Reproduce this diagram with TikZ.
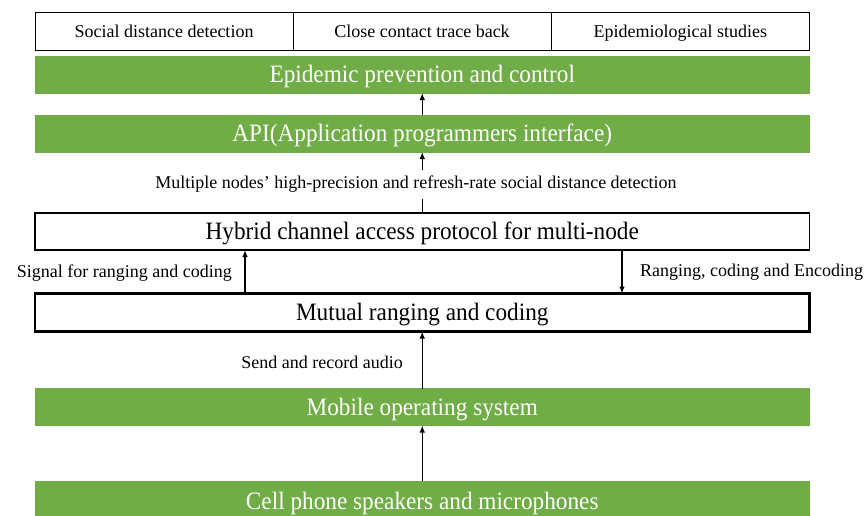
\documentclass[tikz,border=0pt]{standalone}
\usepackage{fontspec}
\setmainfont{Liberation Serif}
\newfontfamily\bigfont[FakeStretch=0.93]{Liberation Serif}
\usetikzlibrary{arrows.meta}
\definecolor{ogreen}{HTML}{70AD47}
\begin{document}
\begin{tikzpicture}[x=1pt,y=-1pt,
  bigtxt/.style={font=\bigfont\fontsize{25}{25}\selectfont, text height=16.5pt, text depth=0pt},
  smalltxt/.style={font=\fontsize{18}{18}\selectfont, text height=11.9pt, text depth=0pt},
  layer/.style={anchor=north west, minimum width=774.5pt, minimum height=37pt, inner sep=0pt, outer sep=0pt},
  greenbox/.style={layer, bigtxt, fill=ogreen, draw=ogreen!90!gray, line width=0.8pt, text=white},
  whitebox/.style={layer, bigtxt, draw=black, fill=white, line width=1.3pt},
  cellbox/.style={anchor=north west, smalltxt, draw=black, line width=1pt, minimum width=258pt, minimum height=38pt, inner sep=0pt, outer sep=0pt},
  lbl/.style={font=\fontsize{18}{18}\selectfont, inner sep=0pt},
  arr/.style={-{Latex[length=7pt,width=5.5pt]}, line width=1.3pt}
]
\useasboundingbox (0,0) rectangle (865,515);

% top row
\node[cellbox] (c1) at (35,12.5) {Social distance detection};
\node[cellbox] (c2) at (293,12.5) {Close contact trace back};
\node[cellbox, minimum width=258.5pt] (c3) at (551,12.5) {Epidemiological studies};

% layers
\node[greenbox] (epi) at (35,56) {Epidemic prevention and control};
\node[greenbox] (api) at (35,115) {API(Application programmers interface)};
\node[whitebox] (hyb) at (35,213) {Hybrid channel access protocol for multi-node};
\node[whitebox, line width=2.7pt, minimum height=38pt] (mut) at (35,293.5) {Mutual ranging and coding};
\node[greenbox] (mob) at (35,388.5) {Mobile operating system};
\node[greenbox, minimum height=40pt] (cell) at (35,481) {Cell phone speakers and microphones};

% connectors
\coordinate (xL) at (245,0);
\coordinate (xR) at (622,0);
\draw[arr] (api.north) -- (epi.south);
\draw[arr] (hyb.north) -- (api.south);
\node[lbl, fill=white, minimum height=29pt, inner xsep=6pt] (mlab) at (416,184) {Multiple nodes’ high-precision and refresh-rate social distance detection};
\draw[arr] (mut.north -| xL) -- (hyb.south -| xL);
\draw[arr] (hyb.south -| xR) -- (mut.north -| xR);
\draw[arr] (mob.north) -- (mut.south);
\draw[arr] (cell.north) -- (mob.south);

% labels
\node[lbl, anchor=base east] (slab) at (232,277.5) {Signal for ranging and coding};
\node[lbl, anchor=base west] (rlab) at (640,276) {Ranging, coding and Encoding};
\node[lbl, anchor=base east] (alab) at (403,368) {Send and record audio};
\end{tikzpicture}
\end{document}
